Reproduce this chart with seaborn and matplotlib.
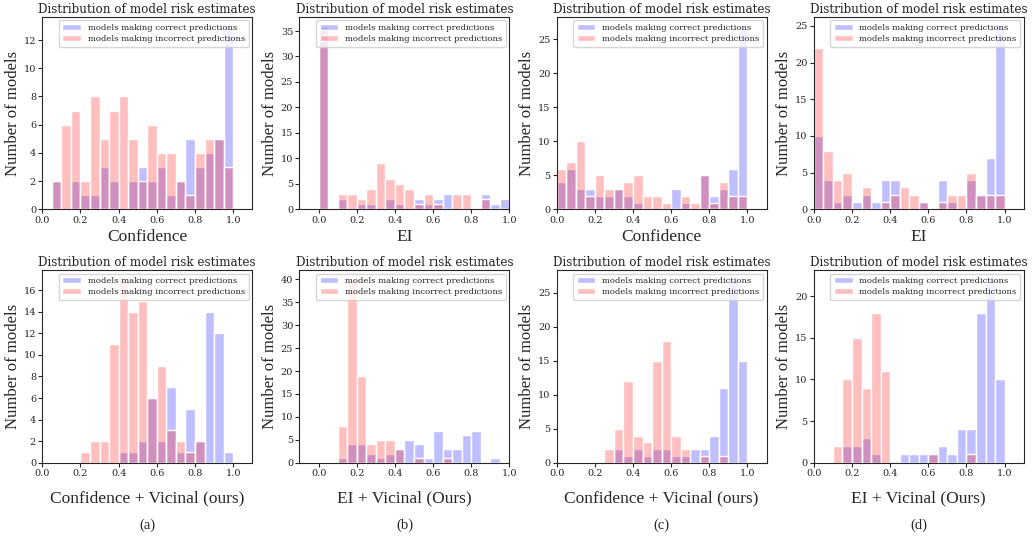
import numpy as np
import pandas as pd
import matplotlib
matplotlib.use('Agg')
import matplotlib.pyplot as plt
import seaborn as sns

# bin edges: 20 bins of width 0.05 on [0, 1]
edges = np.linspace(0, 1, 21)
centers = (edges[:-1] + edges[1:]) / 2

# counts per bin
conf_correct = [0, 2, 0, 2, 1, 1, 3, 2, 0, 2, 3, 2, 3, 1, 2, 5, 3, 4, 5, 13]
conf_incorrect = [0, 2, 6, 7, 2, 8, 5, 7, 8, 5, 2, 6, 4, 4, 2, 1, 4, 5, 5, 3]

ei_correct = [36, 0, 2, 0, 1, 1, 0, 2, 1, 0, 2, 1, 2, 3, 0, 0, 0, 3, 1, 2]
ei_incorrect = [36, 0, 3, 3, 2, 4, 9, 6, 5, 4, 1, 3, 1, 0, 3, 3, 0, 2, 0, 0]

conf2_correct = [4, 6, 3, 3, 2, 2, 3, 2, 1, 0, 0, 0, 3, 1, 0, 5, 2, 3, 6, 27]
conf2_incorrect = [6, 7, 10, 2, 5, 3, 3, 4, 5, 2, 2, 1, 0, 2, 1, 5, 1, 4, 2, 2]

ei2_correct = [10, 4, 1, 2, 1, 2, 1, 4, 4, 0, 0, 1, 0, 4, 1, 0, 4, 2, 7, 25]
ei2_incorrect = [22, 8, 4, 5, 0, 3, 0, 1, 2, 3, 2, 1, 0, 1, 2, 2, 5, 2, 2, 2]

confv_correct = [0, 0, 0, 0, 0, 0, 0, 0, 1, 1, 2, 6, 2, 7, 1, 5, 2, 14, 12, 1]
confv_incorrect = [0, 0, 0, 0, 1, 2, 2, 11, 17, 14, 15, 6, 9, 3, 2, 1, 2, 0, 0, 0]

eiv_correct = [0, 0, 1, 4, 4, 2, 1, 2, 3, 5, 4, 1, 7, 3, 3, 6, 7, 0, 1, 0]
eiv_incorrect = [0, 0, 8, 40, 19, 4, 5, 5, 3, 0, 1, 0, 0, 1, 0, 0, 0, 0, 0, 0]

confv2_correct = [0, 0, 0, 0, 0, 0, 2, 1, 2, 1, 2, 2, 1, 1, 2, 2, 4, 11, 27, 15]
confv2_incorrect = [0, 0, 0, 0, 0, 2, 5, 12, 4, 3, 15, 18, 4, 2, 0, 1, 0, 1, 0, 0]

eiv2_correct = [0, 0, 0, 2, 2, 3, 1, 0, 0, 1, 1, 1, 1, 2, 1, 4, 4, 18, 22, 10]
eiv2_incorrect = [0, 0, 2, 10, 15, 9, 18, 11, 0, 0, 0, 0, 1, 0, 0, 0, 1, 0, 0, 0]

panels = [
    (conf_correct, conf_incorrect, 'Confidence', (0, 1.1)),
    (ei_correct, ei_incorrect, 'EI', (-0.1, 1.0)),
    (conf2_correct, conf2_incorrect, 'Confidence', (0, 1.1)),
    (ei2_correct, ei2_incorrect, 'EI', (0, 1.1)),
    (confv_correct, confv_incorrect, 'Confidence + Vicinal (ours)', (0, 1.1)),
    (eiv_correct, eiv_incorrect, 'EI + Vicinal (Ours)', (-0.1, 1.0)),
    (confv2_correct, confv2_incorrect, 'Confidence + Vicinal (ours)', (0, 1.1)),
    (eiv2_correct, eiv2_incorrect, 'EI + Vicinal (Ours)', (0, 1.1)),
]
captions = ['(a)', '(b)', '(c)', '(d)']

sns.set_style('ticks')
plt.rcParams['font.family'] = ['DejaVu Serif']

fig, axes = plt.subplots(2, 4, figsize=(10.32, 5.4), dpi=100)
plt.subplots_adjust(left=0.041, right=0.992, top=0.969, bottom=0.143,
                    wspace=0.225, hspace=0.316)

for i, (ax, (corr, inc, xlab, xlim)) in enumerate(zip(axes.flat, panels)):
    df = pd.DataFrame({'x': centers, 'correct': corr, 'incorrect': inc})
    sns.histplot(data=df, x='x', weights='correct', bins=list(edges), ax=ax,
                 color='blue', alpha=0.25, edgecolor='white', linewidth=1,
                 label='models making correct predictions')
    sns.histplot(data=df, x='x', weights='incorrect', bins=list(edges), ax=ax,
                 color='red', alpha=0.25, edgecolor='white', linewidth=1,
                 label='models making incorrect predictions')
    ax.set_xlim(*xlim)
    ax.set_xticks([0.0, 0.2, 0.4, 0.6, 0.8, 1.0])
    ax.tick_params(labelsize=7, length=3, pad=1.5)
    ax.set_title('Distribution of model risk estimates', fontsize=8.6, pad=3)
    pad = 3 if i < 4 else 9
    ax.set_xlabel(xlab, fontsize=12.5, family='Liberation Serif', labelpad=pad)
    ax.set_ylabel('Number of models', fontsize=12, family='Liberation Serif', labelpad=2)
    ax.legend(loc='upper right', fontsize=6.1, framealpha=0.8,
              handlelength=2.2, borderpad=0.45, labelspacing=0.35,
              borderaxespad=0.4)

for ax, cap in zip(axes[1], captions):
    pos = ax.get_position()
    fig.text((pos.x0 + pos.x1) / 2, 0.028, cap, ha='center', va='center',
             fontsize=10.5, family='Liberation Serif')

plt.savefig('out.png', dpi=100)
